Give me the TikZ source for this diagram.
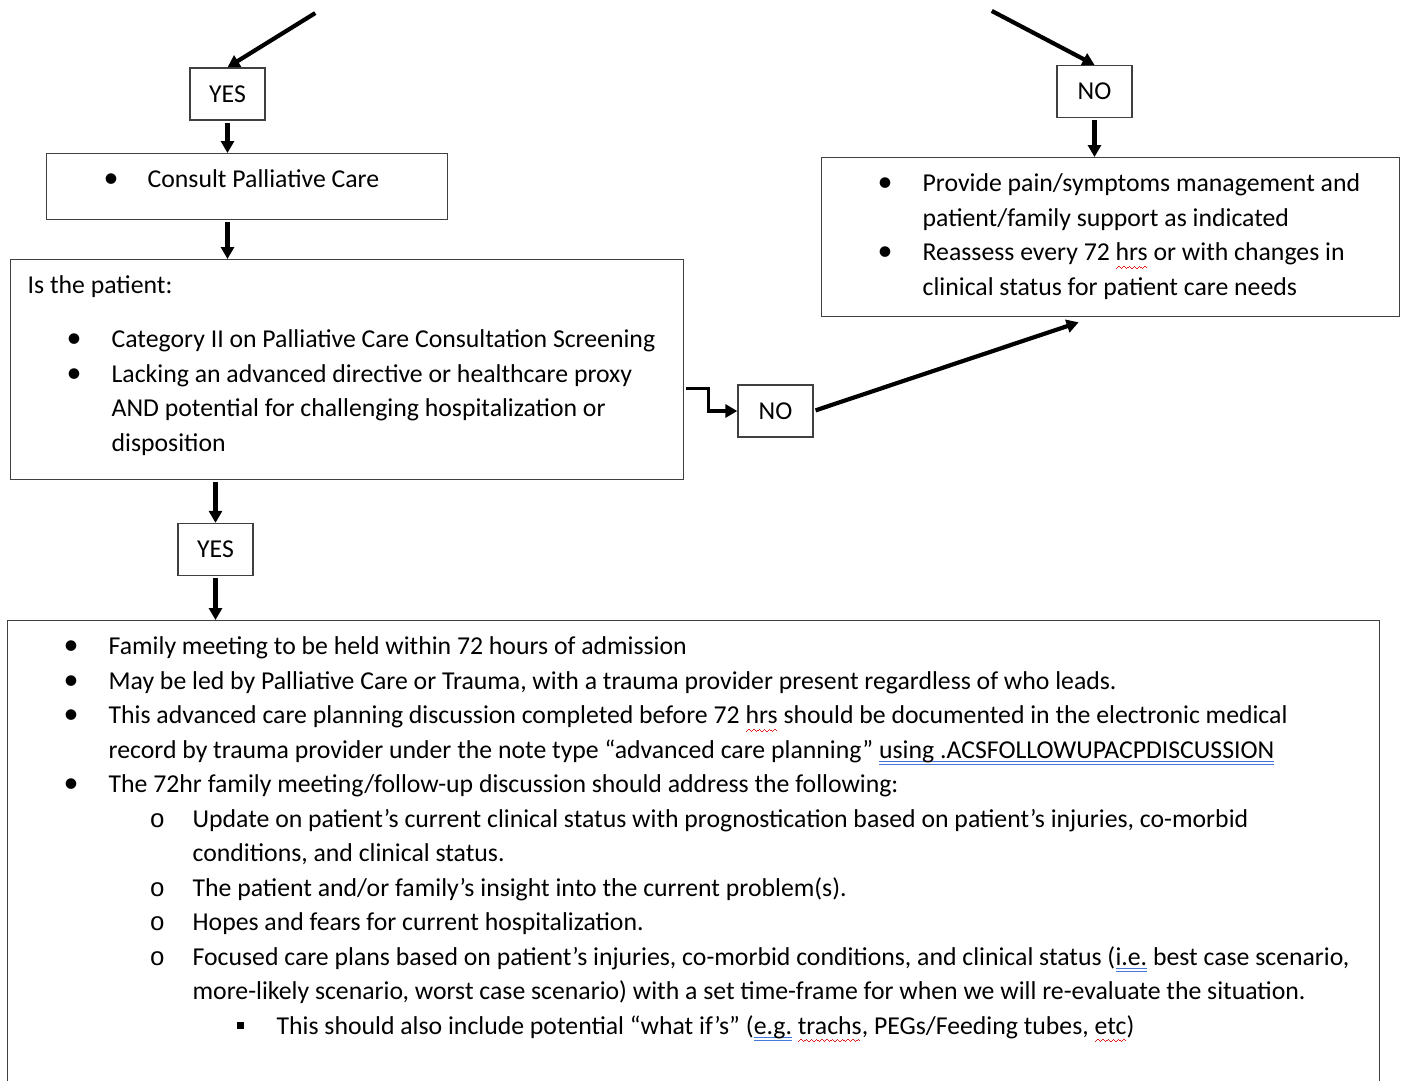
\documentclass[tikz,border=0pt]{standalone}
\usepackage{fontspec}
\setmainfont{Carlito}
\newfontfamily\courierfont{Liberation Mono}
\usetikzlibrary{arrows.meta,positioning}

\definecolor{boxline}{RGB}{64,64,64}
\definecolor{spellred}{RGB}{225,30,30}
\definecolor{grammarblue}{RGB}{70,120,220}

\newcommand{\wavebit}{\rule[-8pt]{1.3pt}{1pt}\rule[-7pt]{1.3pt}{1pt}\rule[-6pt]{1.3pt}{1pt}\rule[-7pt]{1.3pt}{1pt}}
\newcommand{\spellmark}[1]{\setbox0\hbox{#1}\rlap{\textcolor{spellred}{\leaders\hbox{\wavebit}\hskip\wd0}}\box0{}}
\newcommand{\grammarmark}[1]{\setbox0\hbox{#1}\rlap{\textcolor{grammarblue}{\rule[-4pt]{\wd0}{0.9pt}}}\rlap{\textcolor{grammarblue}{\rule[-6.5pt]{\wd0}{0.9pt}}}\box0{}}

\newcommand{\entry}[4]{\par\hangindent=#2pt\hangafter=1\noindent\hspace*{#1pt}\makebox[\dimexpr#2pt-#1pt\relax][l]{#3}#4}
\newcommand{\dotmark}{{\fontsize{30}{30}\selectfont •}}
\newcommand{\ringmark}{{\courierfont o}}
\newcommand{\squaremark}{\rule[5pt]{7pt}{7pt}}
\newcommand{\firstline}{\rule{0pt}{34pt}}
\newcommand{\boxtext}[3]{\parbox[c][#2pt][t]{#1pt}{\raggedright #3\par}}

\begin{document}
\begin{tikzpicture}[x=1pt,y=-1pt]
	\tikzset{
		box/.style={draw=boxline,line width=1.3pt,inner sep=0pt,anchor=north west},
		answer/.style={draw=boxline,line width=1.3pt,inner sep=0pt,minimum width=75pt,minimum height=52pt},
		flow/.style={-{Triangle[length=12pt,width=13pt]},line width=4.2pt,shorten <=2pt},
		every node/.style={font=\fontsize{25.75}{34.5}\selectfont}
	}
	\useasboundingbox (0,0) rectangle (1405,1081);
	\coordinate (fromyes) at (317,12);
	\coordinate (fromno) at (990,10);
	\node[answer] (yes1) at (227.5,94) {YES};
	\node[answer] (no1) at (1094.5,91.5) {NO};
	\node[box] (consult) at (46,153) {\boxtext{401}{66}{%
		\entry{57}{101}{\dotmark}{\firstline Consult Palliative Care}}};
	\node[box] (patient) at (10,259) {\boxtext{673}{220}{%
		\noindent\hspace*{17pt}\firstline Is the patient:\par\vspace{19.5pt}
		\entry{56}{101}{\dotmark}{Category II on Palliative Care Consultation Screening}
		\entry{56}{101}{\dotmark}{Lacking an advanced directive or healthcare proxy\newline
			AND potential for challenging hospitalization or\newline disposition}}};
	\node[box] (care) at (821,157) {\boxtext{578}{159}{%
		\entry{56}{101}{\dotmark}{\firstline Provide pain/symptoms management and\newline
			patient/family support as indicated}
		\entry{56}{101}{\dotmark}{Reassess every 72 \spellmark{hrs} or with changes in\newline
			clinical status for patient care needs}}};
	\node[answer] (no2) at (775.5,411) {NO};
	\node[answer] (yes3) at (215.5,549.5) {YES};
	\node[box] (meeting) at (7,620) {\boxtext{1372}{470}{%
		\entry{56}{101}{\dotmark}{\firstline Family meeting to be held within 72 hours of admission}
		\entry{56}{101}{\dotmark}{May be led by Palliative Care or Trauma, with a trauma provider present regardless of who leads.}
		\entry{56}{101}{\dotmark}{This advanced care planning discussion completed before 72 \spellmark{hrs} should be documented in the electronic medical\newline
			record by trauma provider under the note type “advanced care planning” \grammarmark{using .ACSFOLLOWUPACPDISCUSSION}}
		\entry{56}{101}{\dotmark}{The 72hr family meeting/follow-up discussion should address the following:}
		\entry{142}{185}{\ringmark}{Update on patient’s current clinical status with prognostication based on patient’s injuries, co-morbid\newline
			conditions, and clinical status.}
		\entry{142}{185}{\ringmark}{The patient and/or family’s insight into the current problem(s).}
		\entry{142}{185}{\ringmark}{Hopes and fears for current hospitalization.}
		\entry{142}{185}{\ringmark}{Focused care plans based on patient’s injuries, co-morbid conditions, and clinical status (\grammarmark{i.e.} best case scenario,\newline
			more-likely scenario, worst case scenario) with a set time-frame for when we will re-evaluate the situation.}
		\entry{229}{269}{\squaremark}{This should also include potential “what if’s” (\grammarmark{e.g.} \spellmark{trachs}, PEGs/Feeding tubes, \spellmark{etc})}}};
	\path[flow]
		(fromyes) edge (yes1.north)
		(fromno) edge (no1.north)
		(yes1.south) edge (yes1.south |- consult.north)
		(yes1 |- consult.south) edge (yes1 |- patient.north)
		(no1.south) edge (no1.south |- care.north)
		(no2.east) edge ([xshift=-32pt,yshift=-5pt]care.south)
		(yes3 |- patient.south) edge (yes3.north)
		(yes3.south) edge (yes3.south |- meeting.north);
	\draw[flow,line width=3.5pt] ([yshift=-19pt]patient.east) -- ++(24,0) |- (no2.west);
\end{tikzpicture}
\end{document}
